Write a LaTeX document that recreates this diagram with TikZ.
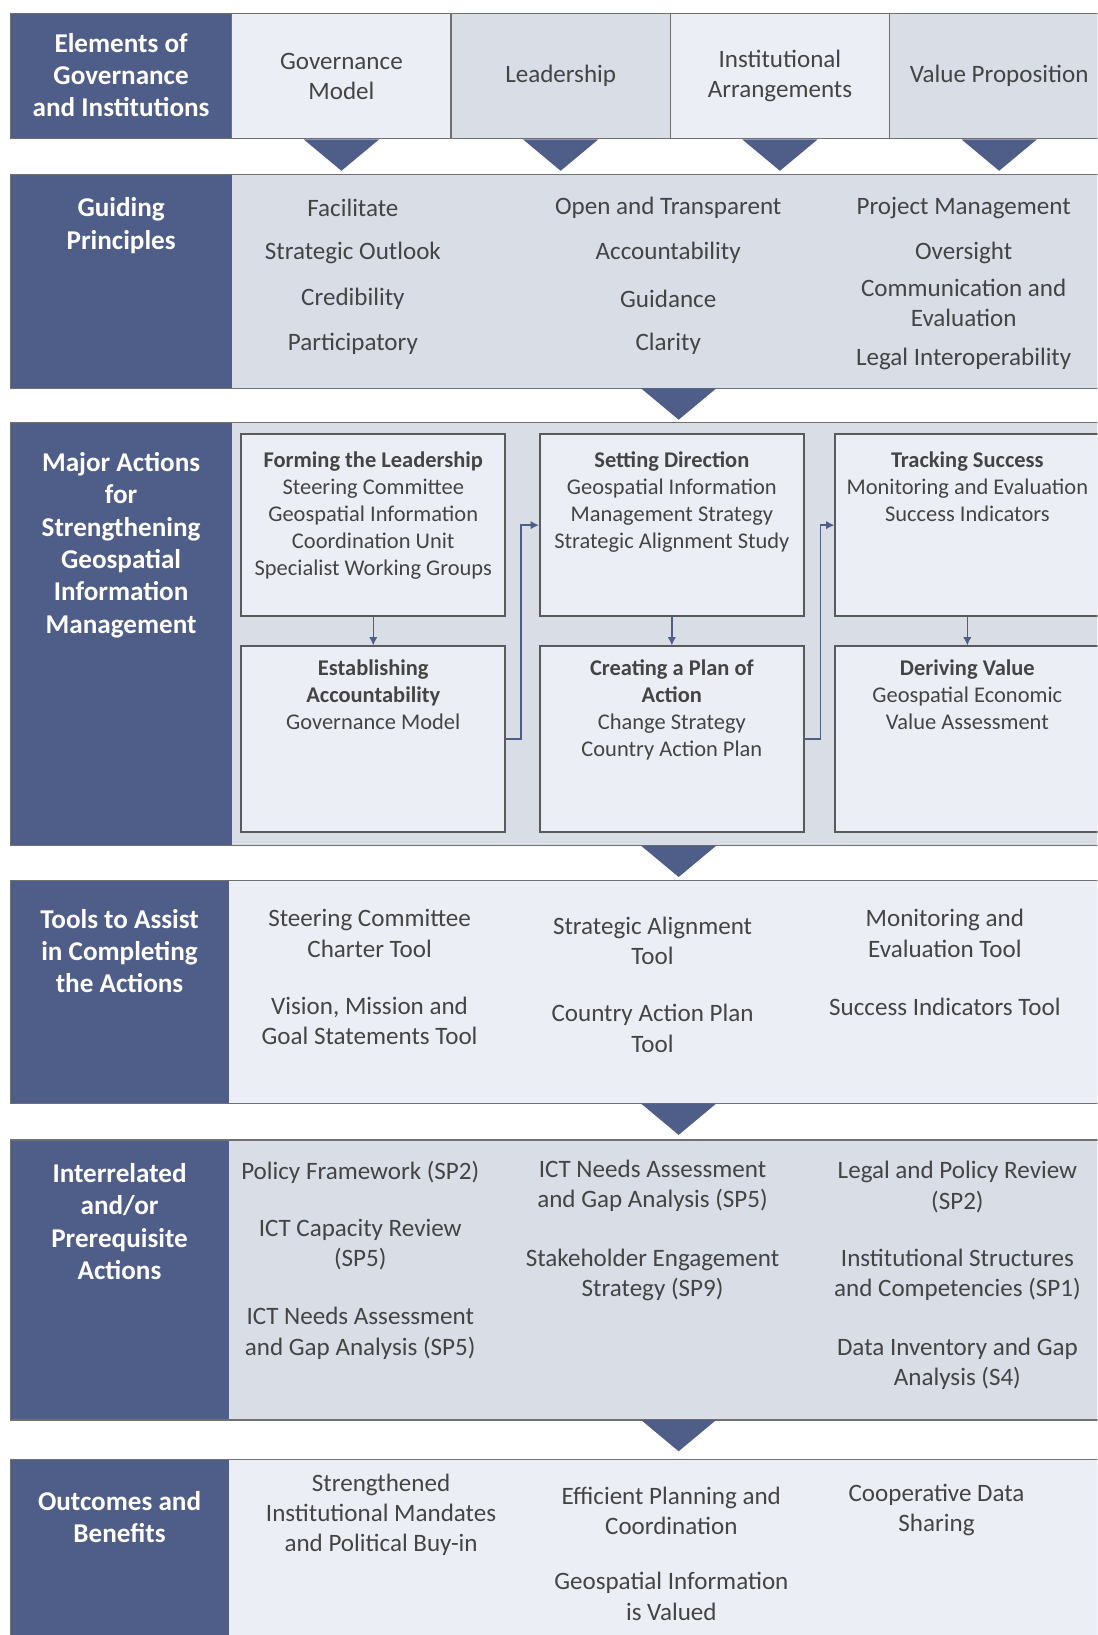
\documentclass[tikz,border=0pt]{standalone}
\usepackage{fontspec}
\setmainfont{Carlito}
\usetikzlibrary{arrows.meta,positioning}
\definecolor{navy}{HTML}{4F5D89}
\definecolor{paleblue}{HTML}{EBEEF4}
\definecolor{greyblue}{HTML}{D8DDE6}
\definecolor{ink}{HTML}{444444}
\definecolor{edgegrey}{HTML}{707070}
\definecolor{boxline}{HTML}{5A5A5A}
% one horizontal band: name, top, bottom, right end of the dark panel, fill, label y, label
\newcommand{\band}[7]{%
 \fill[#5] (10,#2) rectangle (1060,#3);%
 \fill[navy] (10,#2) rectangle (#4,#3);%
 \draw[edgegrey,line width=.6pt] (10,#2) rectangle (1060,#3);%
 \node (#1) [head] at ({(10+#4)/2},#6) {#7};%
}
% the down pointer under a band
\newcommand{\pointer}[1]{%
 \fill[navy] (#1) ++(-36,0) -- ++(72,0) -- ++(-36,30) -- cycle;%
}

\begin{document}
\begin{tikzpicture}[x=0.5pt,y=-0.5pt,>={Latex[length=4pt,width=4pt]},
  head/.style={text=white,font=\fontsize{13}{15.5}\selectfont\bfseries,align=center,inner sep=0pt},
  item/.style={text=ink,font=\fontsize{12}{14.5}\selectfont,align=center,inner sep=0pt},
  cell/.style={draw=edgegrey,line width=.6pt,minimum width=105pt,minimum height=60pt,
    text=ink,align=center,font=\fontsize{12}{14.5}\selectfont},
  actbox/.style={draw=boxline,line width=.8pt,fill=paleblue,minimum width=126.5pt},
  acttext/.style={text=ink,font=\fontsize{10.75}{13}\selectfont,align=center,inner sep=0pt},
  link/.style={->,draw=navy,line width=.7pt}]
 \clip (0,0) rectangle (1051,1566);
 \fill[white] (0,0) rectangle (1051,1566);

 % elements
 \band{elem}{13}{133}{222}{paleblue}{72}{Elements of\\Governance\\and Institutions}
 \node (gov)   [cell,fill=paleblue] at (327,73) {Governance\\Model};
 \node (lead)  [cell,fill=greyblue] at (537,73) {Leadership};
 \node (inst)  [cell,fill=paleblue] at (747,73) {Institutional\\Arrangements};
 \node (value) [cell,fill=greyblue] at (957,73) {Value Proposition};
 \pointer{gov.south}
 \pointer{lead.south}
 \pointer{inst.south}
 \pointer{value.south}

 % guiding principles
 \band{guide}{167}{372}{222}{greyblue}{216}{Guiding\\Principles}
 \foreach \t/\y [count=\i] in {Facilitate/199, Strategic Outlook/242, Credibility/286, Participatory/329}
  \node (gpa\i) [item] at (338,\y) {\t};
 \foreach \t/\y [count=\i] in {Open and Transparent/199, Accountability/242, Guidance/286, Clarity/329}
  \node (gpb\i) [item] at (640,\y) {\t};
 \foreach \t/\y [count=\i] in {Project Management/199, Oversight/242, {Communication and\\Evaluation}/290, Legal Interoperability/344}
  \node (gpc\i) [item] at (923,\y) {\t};
 \pointer{650,372}

 % major actions
 \band{major}{405}{810}{222}{greyblue}{522}{Major Actions\\for\\Strengthening\\Geospatial\\Information\\Management}
 \node (form)   [actbox,minimum height=87pt] at (357.5,503) {};
 \node (setdir) [actbox,minimum height=87pt] at (643.5,503) {};
 \node (track)  [actbox,minimum height=87pt] at (926.5,503) {};
 \node (acct)   [actbox,minimum height=89pt] at (357.5,708) {};
 \node (plan)   [actbox,minimum height=89pt] at (643.5,708) {};
 \node (derive) [actbox,minimum height=89pt] at (926.5,708) {};
 \node (form-t) [acttext,below=8.5pt of form.north] {\textbf{Forming the Leadership}\\Steering Committee\\Geospatial Information\\Coordination Unit\\Specialist Working Groups};
 \node (setdir-t) [acttext,below=8.5pt of setdir.north] {\textbf{Setting Direction}\\Geospatial Information\\Management Strategy\\Strategic Alignment Study};
 \node (track-t) [acttext,below=8.5pt of track.north] {\textbf{Tracking Success}\\Monitoring and Evaluation\\Success Indicators};
 \node (acct-t) [acttext,below=6.5pt of acct.north] {\textbf{Establishing}\\\textbf{Accountability}\\Governance Model};
 \node (plan-t) [acttext,below=6.5pt of plan.north] {\textbf{Creating a Plan of}\\\textbf{Action}\\Change Strategy\\Country Action Plan};
 \node (derive-t) [acttext,below=6.5pt of derive.north] {\textbf{Deriving Value}\\Geospatial Economic\\Value Assessment};
 \draw[link] (form) -- (acct);
 \draw[link] (setdir) -- (plan);
 \draw[link] (track) -- (derive);
 \draw[link] (acct.east) -- ++(14,0) |- (setdir.west);
 \draw[link] (plan.east) -- ++(15,0) |- (track.west);
 \pointer{650,810}

 % tools
 \band{tools}{843}{1057}{219}{paleblue}{911}{Tools to Assist\\in Completing\\the Actions}
 \foreach \t/\y [count=\i] in {{Steering Committee\\Charter Tool}/894, {Vision, Mission and\\Goal Statements Tool}/978}
  \node (tla\i) [item] at (354,\y) {\t};
 \foreach \t/\y [count=\i] in {{Strategic Alignment\\Tool}/901, {Country Action Plan\\Tool}/985}
  \node (tlb\i) [item] at (625,\y) {\t};
 \foreach \t/\y [count=\i] in {{Monitoring and\\Evaluation Tool}/894, Success Indicators Tool/964}
  \node (tlc\i) [item] at (905,\y) {\t};
 \pointer{650,1057}

 % prerequisites
 \band{prereq}{1092}{1360}{219}{greyblue}{1170}{Interrelated\\and/or\\Prerequisite\\Actions}
 \foreach \t/\y [count=\i] in {Policy Framework (SP2)/1123, {ICT Capacity Review\\(SP5)}/1192, {ICT Needs Assessment\\and Gap Analysis (SP5)}/1277}
  \node (pra\i) [item] at (345,\y) {\t};
 \foreach \t/\y [count=\i] in {{ICT Needs Assessment\\and Gap Analysis (SP5)}/1136, {Stakeholder Engagement\\Strategy (SP9)}/1221}
  \node (prb\i) [item] at (625,\y) {\t};
 \foreach \t/\y [count=\i] in {{Legal and Policy Review\\(SP2)}/1137, {Institutional Structures\\and Competencies (SP1)}/1221, {Data Inventory and Gap\\Analysis (S4)}/1306}
  \node (prc\i) [item] at (917,\y) {\t};
 \pointer{650,1360}

 % outcomes
 \band{outcome}{1398}{1600}{219}{paleblue}{1453}{Outcomes and\\Benefits}
 \node (oca1) [item] at (365,1451) {Strengthened\\Institutional Mandates\\and Political Buy-in};
 \node (ocb1) [item] at (643,1447) {Efficient Planning and\\Coordination};
 \node (ocb2) [item] at (643,1529) {Geospatial Information\\is Valued};
 \node (occ1) [item] at (897,1446) {Cooperative Data\\Sharing};
\end{tikzpicture}
\end{document}
